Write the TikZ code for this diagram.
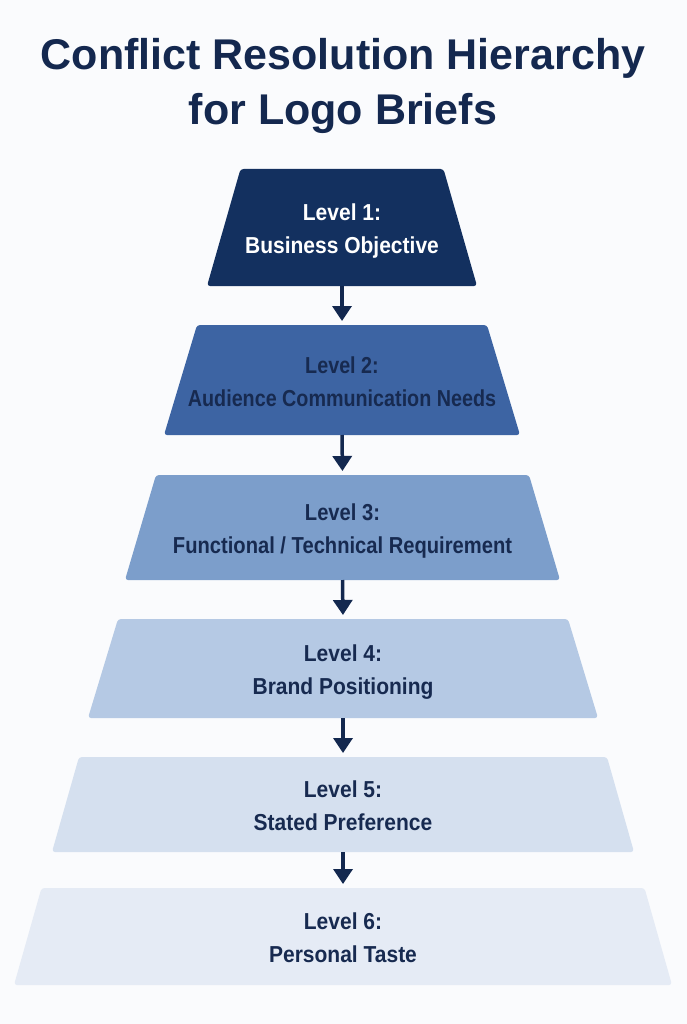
\documentclass[tikz,border=0pt]{standalone}
\usepackage{fontspec}
\setmainfont{Liberation Sans}
\usetikzlibrary{arrows.meta}
\definecolor{bgc}{HTML}{FAFBFD}
\definecolor{titlec}{HTML}{14284F}
\definecolor{txt}{HTML}{172A50}
\definecolor{cA}{HTML}{13305F}
\definecolor{cB}{HTML}{3D64A3}
\definecolor{cC}{HTML}{7C9ECB}
\definecolor{cD}{HTML}{B5C9E4}
\definecolor{cE}{HTML}{D5E0EF}
\definecolor{cF}{HTML}{E5EBF5}
\definecolor{arrc}{HTML}{13284F}
\newcommand{\lvtext}[3][1]{\raisebox{-3pt}[\height][\depth]{\scalebox{#1}[1.1]{\fontsize{21}{30}\selectfont\bfseries\begin{tabular}{@{}c@{}}#2\\#3\end{tabular}}}}
\begin{document}
\begin{tikzpicture}[x=1pt,y=1pt,
  levelbox/.style n args={4}{rectangle, inner sep=0pt, outer sep=0pt, text=txt,
    minimum width=#1, minimum height=#2,
    path picture={\fill[#4, rounded corners=3pt]
      ([xshift=#3]path picture bounding box.north west) --
      ([xshift=-#3]path picture bounding box.north east) --
      (path picture bounding box.south east) --
      (path picture bounding box.south west) -- cycle;}},
  titletext/.style={font=\fontsize{43}{55}\selectfont\bfseries, text=titlec, anchor=base},
  arr/.style={draw=arrc, line width=3.5pt, -{Triangle[width=19pt,length=15pt]}, shorten >=4pt}]
\fill[bgc] (0,0) rectangle (687,-1024);
\useasboundingbox (0,0) rectangle (687,-1024);
\node[titletext] (t1) at (343,-70) {Conflict Resolution Hierarchy};
\node[titletext] (t2) at (343,-125) {for Logo Briefs};
\node[levelbox={270}{117}{33.5pt}{cA}, text=white] (l1) at (342,-227.5) {\lvtext{Level 1:}{Business Objective}};
\node[levelbox={356}{110}{33pt}{cB}] (l2) at (342,-380) {\lvtext[0.94]{Level 2:}{Audience Communication Needs}};
\node[levelbox={435}{105}{31pt}{cC}] (l3) at (342.5,-527.5) {\lvtext[0.96]{Level 3:}{Functional / Technical Requirement}};
\node[levelbox={510}{99}{30pt}{cD}] (l4) at (343,-668.5) {\lvtext{Level 4:}{Brand Positioning}};
\node[levelbox={582}{95}{27pt}{cE}] (l5) at (343,-804.5) {\lvtext{Level 5:}{Stated Preference}};
\node[levelbox={658}{97}{27.5pt}{cF}] (l6) at (343,-936.5) {\lvtext{Level 6:}{Personal Taste}};
\draw[arr] (l1.south) -- (l2.north);
\draw[arr] (l2.south) -- (l3.north);
\draw[arr] (l3.south) -- (l4.north);
\draw[arr] (l4.south) -- (l5.north);
\draw[arr] (l5.south) -- (l6.north);
\end{tikzpicture}
\end{document}
